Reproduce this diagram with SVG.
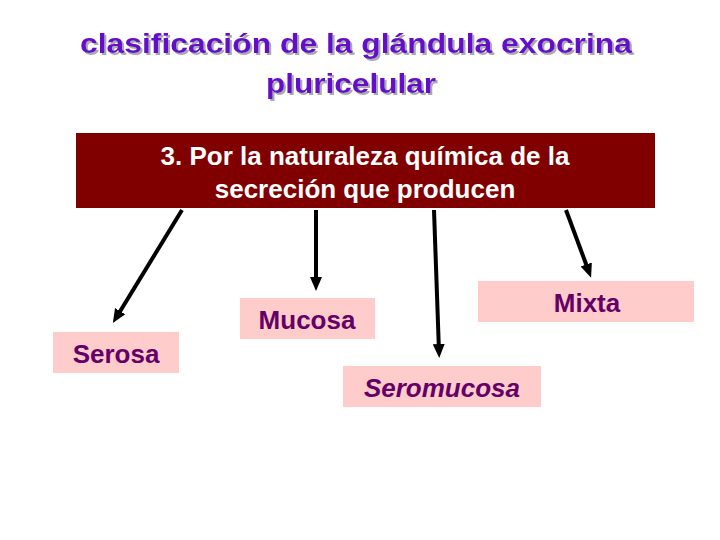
<svg xmlns="http://www.w3.org/2000/svg" width="720" height="540" viewBox="0 0 720 540">
<style>
.t{font-family:"Liberation Sans",Arial,sans-serif;font-size:26px;text-anchor:middle}
.l{font-family:"Liberation Sans",Arial,sans-serif;font-size:26px;font-weight:bold;fill:#660066;text-anchor:middle}
.b{fill:#ffcccc}
.c{stroke:#000;stroke-width:4;fill:none;marker-end:url(#a)}
</style>
<defs>
<marker id="a" markerWidth="4" markerHeight="4" refX="2" refY="2" orient="auto" markerUnits="strokeWidth"><path d="M0,0.5 L3.5,2 L0,3.5Z" fill="#000"/></marker>
<filter id="s" x="-5%" y="-20%" width="110%" height="150%"><feDropShadow dx="2" dy="2" stdDeviation="0.5" flood-color="#aaa"/></filter>
</defs>
<rect width="720" height="540" fill="#fff"/>
<g id="title" filter="url(#s)" fill="#6611cc" font-family="Liberation Sans,Arial,sans-serif" font-size="27" font-weight="bold" text-anchor="middle">
<text x="356" y="53" textLength="552" lengthAdjust="spacingAndGlyphs">clasificación de la glándula exocrina</text>
<text x="351" y="93" textLength="170" lengthAdjust="spacingAndGlyphs">pluricelular</text>
</g>
<g id="main">
<rect x="76" y="133" width="579" height="75" fill="#800000"/>
<text class="t" x="365" y="165" fill="#fff" font-weight="bold">3. Por la naturaleza química de la</text>
<text class="t" x="365" y="198" fill="#fff" font-weight="bold">secreción que producen</text>
</g>
<g id="connectors">
<line class="c" x1="182" y1="210" x2="116" y2="318"/>
<line class="c" x1="316" y1="210" x2="316" y2="285"/>
<line class="c" x1="434" y1="210" x2="439" y2="352"/>
<line class="c" x1="566" y1="210" x2="589" y2="272"/>
</g>
<g id="serosa"><rect class="b" x="53" y="332" width="126" height="41"/><text class="l" x="116" y="363">Serosa</text></g>
<g id="mucosa"><rect class="b" x="240" y="298" width="135" height="41"/><text class="l" x="307" y="329">Mucosa</text></g>
<g id="mixta"><rect class="b" x="478" y="281" width="216" height="41"/><text class="l" x="587" y="312">Mixta</text></g>
<g id="seromucosa"><rect class="b" x="343" y="366" width="198" height="41"/><text class="l" x="442" y="397" font-style="italic">Seromucosa</text></g>
</svg>
